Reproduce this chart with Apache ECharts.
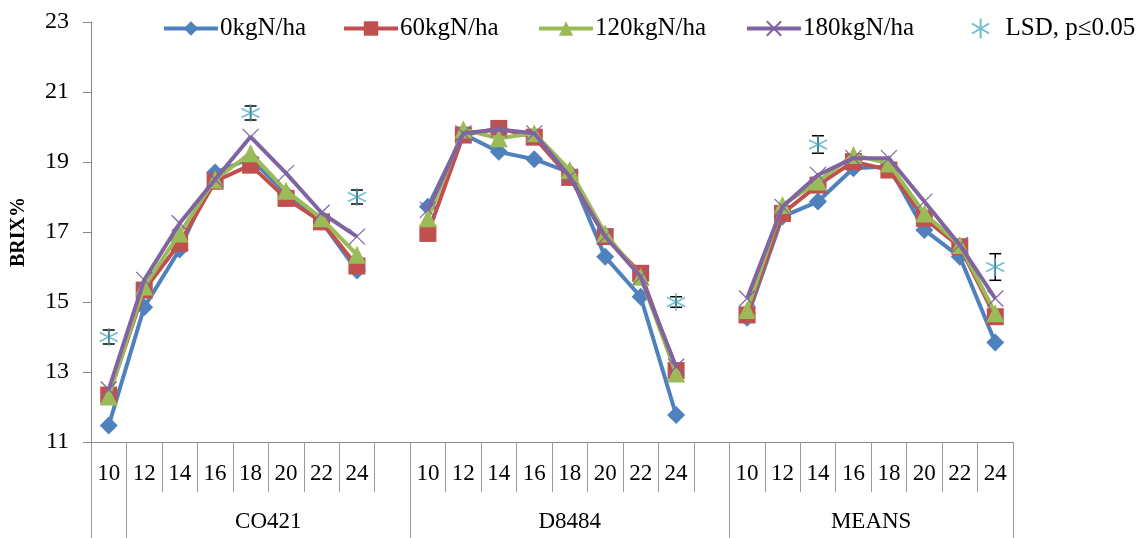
<!DOCTYPE html>
<html>
<head>
<meta charset="utf-8">
<script src="https://cdn.jsdelivr.net/npm/echarts@6/dist/echarts.min.js"></script>
<style>html,body{margin:0;padding:0;background:#fff;}#c{width:1147px;height:538px;}</style>
</head>
<body>
<div id="c"></div>
<script>
// ---- data ----
const hours = ['10','12','14','16','18','20','22','24'];
const groups = ['CO421','D8484','MEANS'];
const seriesNames = ['0kgN/ha','60kgN/ha','120kgN/ha','180kgN/ha'];
const lsdName = 'LSD, p\u22640.05';
// 26 slots: CO421 (8), blank, D8484 (8), blank, MEANS (8)
const kg0   = [11.47,14.85,16.50,18.70,19.10,18.10,17.30,15.90, null, 17.72,19.80,19.29,19.08,18.70,16.29,15.15,11.77, null, 14.55,17.44,17.87,18.82,18.87,17.06,16.29,13.84];
const kg60  = [12.34,15.34,16.68,18.45,18.91,17.96,17.29,16.03, null, 16.96,19.77,19.96,19.71,18.56,16.87,15.82,13.04, null, 14.63,17.53,18.34,19.01,18.77,17.39,16.58,14.58];
const kg120 = [12.30,15.44,16.96,18.50,19.25,18.18,17.39,16.35, null, 17.39,19.93,19.68,19.82,18.77,16.96,15.72,12.96, null, 14.77,17.77,18.44,19.20,18.96,17.53,16.63,14.68];
const kg180 = [12.50,15.63,17.25,18.50,19.72,18.68,17.55,16.87, null, 17.63,19.82,19.93,19.82,18.58,16.87,15.72,13.15, null, 15.10,17.72,18.63,19.11,19.11,17.87,16.63,15.10];
const lsd    = [14.0,null,null,null,20.4,null,null,18.0, null, null,null,null,null,null,null,null,15.0, null, null,null,19.5,null,null,null,null,16.0];
const lsdErr = [0.2,null,null,null,0.2,null,null,0.2, null, null,null,null,null,null,null,null,0.15, null, null,null,0.25,null,null,null,null,0.38];
const yTicks = {min: 11, max: 23, step: 2};

// ---- build categories ----
const cats = [];
groups.forEach((g, gi) => {
  hours.forEach(h => cats.push(h));
  if (gi < groups.length - 1) cats.push('');
});
const nSlots = cats.length;
// group axis uses half-slot positions (boundaries and midpoints)
const half = [];
for (let i = 0; i <= nSlots * 2; i++) half.push('');
// group spans in slot units (Excel layout: first slot alone, then each group)
const spans = [[1, 9], [9, 18], [18, 26]];
groups.forEach((g, gi) => { half[spans[gi][0] + spans[gi][1]] = g; });
const boundSet = new Set([0, 2, 18, 36, 52]);

const colors = ['#4F81BD', '#C0504D', '#9BBB59', '#8064A2'];
const cyan = '#4BACC6';
const serif = 'Liberation Serif';
const xPath = 'path://M0,0L10,10M10,0L0,10';
const starPath = 'path://M5,0L5,10M0.7,2.5L9.3,7.5M0.7,7.5L9.3,2.5';

function lineSeries(name, data, i, symbol, size, extra) {
  return Object.assign({
    name, type: 'line', data, symbol, symbolSize: size,
    connectNulls: false,
    lineStyle: {color: colors[i], width: 4},
    itemStyle: {color: colors[i]},
    z: 2 + i
  }, extra || {});
}

const errData = [];
lsd.forEach((v, i) => { if (v != null) errData.push([i, v - lsdErr[i], v + lsdErr[i]]); });

const chart = echarts.init(document.getElementById('c'), null, {renderer: 'canvas'});
const legendBase = {top: 11, itemWidth: 54, itemHeight: 18, itemGap: 0,
  lineStyle: {width: 4},
  textStyle: {fontFamily: serif, fontSize: 25, color: '#000', padding: [0,0,0,-3]}};
chart.setOption({
  animation: false,
  backgroundColor: '#fff',
  grid: {left: 91, top: 22, width: 922, height: 420},
  legend: [
    Object.assign({}, legendBase, {left: 157, data: [seriesNames[0]]}),
    Object.assign({}, legendBase, {left: 337, data: [seriesNames[1]]}),
    Object.assign({}, legendBase, {left: 532, data: [seriesNames[2]]}),
    Object.assign({}, legendBase, {left: 740, data: [seriesNames[3]]}),
    Object.assign({}, legendBase, {left: 966, itemWidth: 24, itemHeight: 20, data: [lsdName],
      textStyle: {fontFamily: serif, fontSize: 25, color: '#000', padding: [0,0,0,8]}})
  ],
  xAxis: [
    {
      type: 'category', data: cats, boundaryGap: true, position: 'bottom',
      axisLine: {show: true, lineStyle: {color: '#868686', width: 1}},
      axisTick: {show: true, interval: 0, length: 50, lineStyle: {color: '#9a9a9a'}},
      axisLabel: {interval: 0, margin: 20, fontFamily: serif, fontSize: 23, color: '#000'},
      splitLine: {show: false}
    },
    {
      type: 'category', data: half, boundaryGap: false, position: 'bottom',
      axisLine: {show: false},
      axisTick: {show: true, length: 96, interval: (i) => boundSet.has(i), lineStyle: {color: '#9a9a9a'}},
      axisLabel: {interval: (i, v) => v !== '', margin: 68, fontFamily: serif, fontSize: 23, color: '#000'},
      splitLine: {show: false}
    }
  ],
  yAxis: {
    type: 'value', min: yTicks.min, max: yTicks.max, interval: yTicks.step,
    name: 'BRIX%', nameLocation: 'middle', nameRotate: 90, nameGap: 62,
    nameTextStyle: {fontFamily: serif, fontSize: 20, fontWeight: 'bold', color: '#000'},
    axisLine: {show: true, lineStyle: {color: '#868686'}},
    axisTick: {show: true, length: 8, lineStyle: {color: '#868686'}},
    axisLabel: {margin: 22, fontFamily: serif, fontSize: 24, color: '#000'},
    splitLine: {show: false}
  },
  series: [
    lineSeries(seriesNames[0], kg0, 0, 'diamond', 18),
    lineSeries(seriesNames[1], kg60, 1, 'rect', 17),
    lineSeries(seriesNames[2], kg120, 2, 'triangle', 18),
    lineSeries(seriesNames[3], kg180, 3, xPath, 16, {
      itemStyle: {color: colors[3], borderColor: colors[3], borderWidth: 1.2}
    }),
    {
      name: 'err', type: 'custom', z: 10,
      renderItem: function (params, api) {
        const x = api.value(0);
        const lo = api.coord([x, api.value(1)]);
        const hi = api.coord([x, api.value(2)]);
        const w = 6;
        const st = {stroke: '#000', lineWidth: 1.5};
        return {type: 'group', children: [
          {type: 'line', shape: {x1: lo[0], y1: lo[1], x2: hi[0], y2: hi[1]}, style: st},
          {type: 'line', shape: {x1: lo[0]-w, y1: lo[1], x2: lo[0]+w, y2: lo[1]}, style: st},
          {type: 'line', shape: {x1: hi[0]-w, y1: hi[1], x2: hi[0]+w, y2: hi[1]}, style: st}
        ]};
      },
      encode: {x: 0, y: [1, 2]},
      data: errData
    },
    {
      name: lsdName, type: 'scatter', data: lsd, symbol: starPath, symbolSize: 18, z: 11,
      itemStyle: {color: cyan, borderColor: cyan, borderWidth: 1.5}
    }
  ]
});
</script>
</body>
</html>
